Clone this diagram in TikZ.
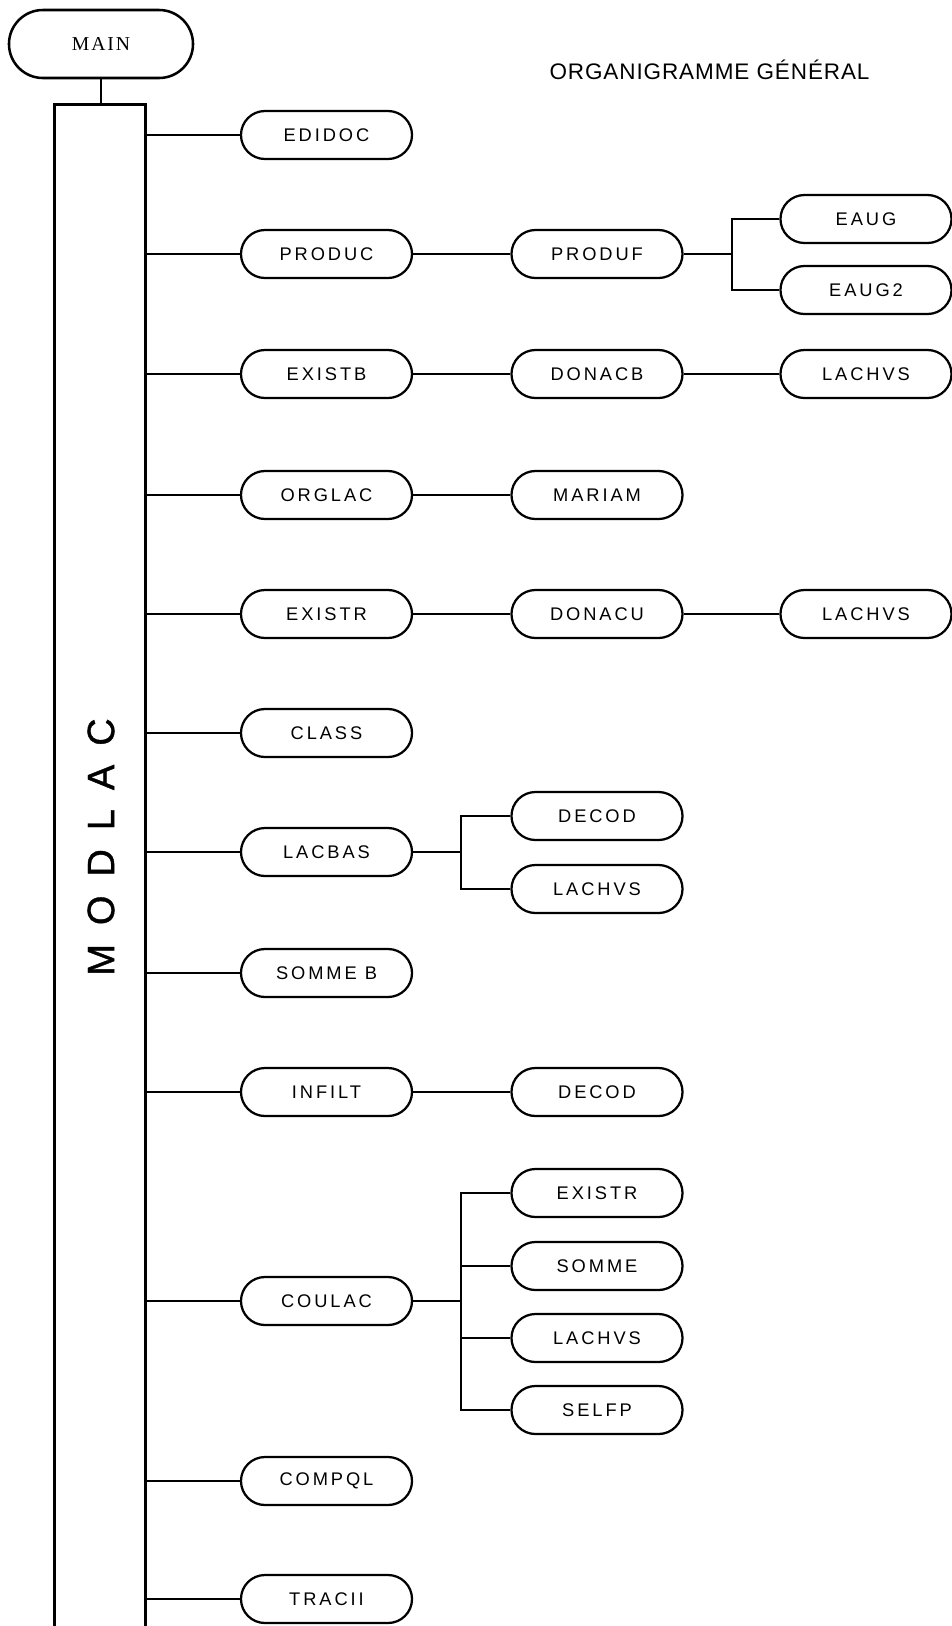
\documentclass[tikz,border=0pt]{standalone}
\usepackage{fontspec}
\newfontfamily\lblfont[LetterSpace=16]{Liberation Sans}
\newfontfamily\titlefont[LetterSpace=4]{Liberation Sans}
\newfontfamily\barfont[LetterSpace=50,FakeBold=1]{Liberation Sans}
\newfontfamily\mainfont[LetterSpace=10]{Liberation Serif}
\tikzset{
  x=0.025cm, y=-0.025cm,
  routine/.style={draw, line width=1.6pt, rounded corners=0.6cm,
    minimum width=4.275cm, minimum height=1.2cm, inner sep=0pt,
    font=\lblfont\fontsize{13}{15}\selectfont},
  topbox/.style={draw, line width=1.8pt, rounded corners=0.85cm,
    minimum width=4.6cm, minimum height=1.7cm, inner sep=0pt,
    font=\mainfont\fontsize{14}{16}\selectfont},
  link/.style={line width=1.5pt},
  barline/.style={line width=1.8pt}
}
\begin{document}
\begin{tikzpicture}
\useasboundingbox (0,0) rectangle (952,1626);
\def\ca{326.5}
\def\cb{597}
\def\cc{866}

% title
\node[font=\titlefont\fontsize{16}{18}\selectfont] (title) at (709.5,70) {ORGANIGRAMME GÉNÉRAL};

% main program and the MODLAC bar
\node[topbox] (main) at (101,44) {MAIN};
\node[minimum width=2.25cm, minimum height=38.025cm, inner sep=0pt] (modlac) at (100,865.5) {};
\draw[barline] (modlac.south west) -- (modlac.north west) -- (modlac.north east) -- (modlac.south east);
\node[rotate=90, font=\barfont\fontsize{27}{30}\selectfont] (modlacname) at (101,847) {MODLAC};
\draw[link] (main.south) -- (main.south |- modlac.north);

% first level
\node[routine] (edidoc) at (\ca,135) {EDIDOC};
\node[routine] (produc) at (\ca,254) {PRODUC};
\node[routine] (existb) at (\ca,374) {EXISTB};
\node[routine] (orglac) at (\ca,495) {ORGLAC};
\node[routine] (existr) at (\ca,614) {EXISTR};
\node[routine] (class) at (\ca,733) {CLASS};
\node[routine] (lacbas) at (\ca,852) {LACBAS};
\node[routine] (sommeb) at (\ca,973) {SOMME B};
\node[routine] (infilt) at (\ca,1092) {INFILT};
\node[routine] (coulac) at (\ca,1301) {COULAC};
\node[routine] (compql) at (\ca,1481) {COMPQL};
\node[routine] (tracii) at (\ca,1599) {TRACII};

\foreach \n in {edidoc,produc,existb,orglac,existr,class,lacbas,sommeb,infilt,coulac,compql,tracii}
  \draw[link] (modlac.east |- \n.west) -- (\n.west);

% second level
\node[routine] (produf) at (\cb,254) {PRODUF};
\node[routine] (donacb) at (\cb,374) {DONACB};
\node[routine] (mariam) at (\cb,495) {MARIAM};
\node[routine] (donacu) at (\cb,614) {DONACU};
\node[routine] (decoda) at (\cb,816) {DECOD};
\node[routine] (lachvsc) at (\cb,889) {LACHVS};
\node[routine] (decodb) at (\cb,1092) {DECOD};
\node[routine] (existrb) at (\cb,1193) {EXISTR};
\node[routine] (somme) at (\cb,1266) {SOMME};
\node[routine] (lachvsd) at (\cb,1338) {LACHVS};
\node[routine] (selfp) at (\cb,1410) {SELFP};

% third level
\node[routine] (eaug) at (\cc,219) {EAUG};
\node[routine] (eaugb) at (\cc,290) {EAUG2};
\node[routine] (lachvsa) at (\cc,374) {LACHVS};
\node[routine] (lachvsb) at (\cc,614) {LACHVS};

% straight calls
\draw[link] (produc.east) -- (produf.west);
\draw[link] (existb.east) -- (donacb.west);
\draw[link] (donacb.east) -- (lachvsa.west);
\draw[link] (orglac.east) -- (mariam.west);
\draw[link] (existr.east) -- (donacu.west);
\draw[link] (donacu.east) -- (lachvsb.west);
\draw[link] (infilt.east) -- (decodb.west);

% forked calls
\coordinate (fproduf) at (732,254);
\draw[link] (produf.east) -- (fproduf);
\draw[link] (eaug.west) -- (fproduf |- eaug.west) -- (fproduf |- eaugb.west) -- (eaugb.west);

\coordinate (flacbas) at (461,852);
\draw[link] (lacbas.east) -- (flacbas);
\draw[link] (decoda.west) -- (flacbas |- decoda.west) -- (flacbas |- lachvsc.west) -- (lachvsc.west);

\coordinate (fcoulac) at (461,1301);
\draw[link] (coulac.east) -- (fcoulac);
\draw[link] (existrb.west) -- (fcoulac |- existrb.west) -- (fcoulac |- selfp.west) -- (selfp.west);
\draw[link] (fcoulac |- somme.west) -- (somme.west);
\draw[link] (fcoulac |- lachvsd.west) -- (lachvsd.west);
\end{tikzpicture}
\end{document}
